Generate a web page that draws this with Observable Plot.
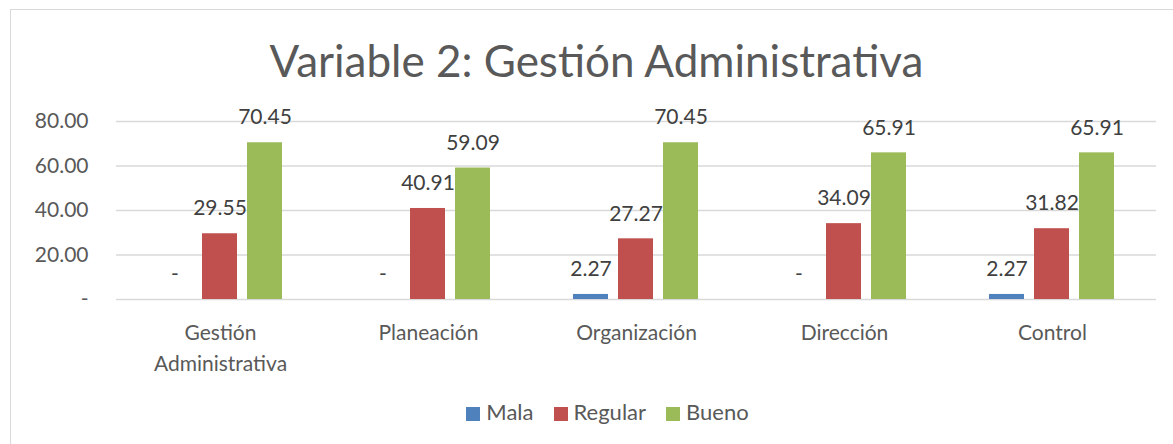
<!DOCTYPE html>
<html>
<head>
<meta charset="utf-8">
<script src="https://cdn.jsdelivr.net/npm/d3@7"></script>
<script src="https://cdn.jsdelivr.net/npm/@observablehq/plot@0.6"></script>
<style>
  html, body { margin: 0; padding: 0; background: #fff; overflow: hidden; width: 1173px; height: 444px; }
  body { position: relative; font-family: Lato, "Open Sans", sans-serif; }
  #frame { position: absolute; left: 10px; top: 9px; width: 1300px; height: 600px; border: 1px solid #d9d9d9; box-sizing: border-box; }
  #title { position: absolute; left: 0; width: 1193px; top: 33px; text-align: center; font-size: 44px; color: #595959; line-height: 54px; white-space: nowrap; }
  #chart { position: absolute; left: 0; top: 95px; }
  #legend { position: absolute; left: 11px; width: 1193px; top: 399px; text-align: center; font-size: 22px; color: #595959; line-height: 26px; white-space: nowrap; }
  #legend span.item { display: inline-block; margin: 0 10px; }
  #legend span.sw { display: inline-block; width: 14px; height: 14px; margin-right: 6px; vertical-align: -1px; }
</style>
</head>
<body>
<div id="frame"></div>
<div id="title">Variable 2: Gestión Administrativa</div>
<div id="chart"></div>
<div id="legend"></div>
<script>
const categories = ["Gestión Administrativa", "Planeación", "Organización", "Dirección", "Control"];
const categoryLabels = ["Gestión\nAdministrativa", "Planeación", "Organización", "Dirección", "Control"];
const seriesNames = ["Mala", "Regular", "Bueno"];
const seriesColors = ["#4f81bd", "#c0504d", "#9bbb59"];
const mala = [0, 0, 2.27, 0, 2.27];
const regular = [29.55, 40.91, 27.27, 34.09, 31.82];
const bueno = [70.45, 59.09, 70.45, 65.91, 65.91];
const yTicks = [0, 20, 40, 60, 80];

const seriesValues = [mala, regular, bueno];
const data = [];
categories.forEach((c, i) => {
  seriesNames.forEach((s, j) => data.push({category: c, series: s, value: seriesValues[j][i]}));
});
const fmt = v => v === 0 ? "-" : v.toFixed(2);

const chart = Plot.plot({
  width: 1173,
  height: 285,
  marginLeft: 115,
  marginRight: 17,
  marginTop: 26,
  marginBottom: 81,
  style: {fontFamily: "Lato, 'Open Sans', sans-serif", fontSize: "21px", color: "#595959", background: "transparent", overflow: "visible"},
  fx: {domain: categories, padding: 0, axis: null, label: null},
  x: {domain: seriesNames, axis: null, paddingInner: 0.217, paddingOuter: 0.87},
  y: {domain: [0, 80], ticks: yTicks, tickFormat: fmt, tickSize: 0, tickPadding: 28, label: null, grid: false},
  color: {domain: seriesNames, range: seriesColors},
  marks: [
    Plot.ruleY(yTicks, {stroke: "#d9d9d9", strokeWidth: 1.5}),
    Plot.barY(data, {fx: "category", x: "series", y: "value", fill: "series"}),
    Plot.text(data, {fx: "category", x: "series", y: "value", text: d => fmt(d.value), dy: -25, fill: "#404040", fontSize: 21}),
    Plot.text(categories, {fx: d => d, text: (d, i) => categoryLabels[i], frameAnchor: "bottom", lineAnchor: "top", dy: 19, lineHeight: 1.45, fill: "#595959", fontSize: 21})
  ]
});
document.getElementById("chart").appendChild(chart);

const legend = document.getElementById("legend");
seriesNames.forEach((s, i) => {
  const item = document.createElement("span");
  item.className = "item";
  const sw = document.createElement("span");
  sw.className = "sw";
  sw.style.background = seriesColors[i];
  item.appendChild(sw);
  item.appendChild(document.createTextNode(s));
  legend.appendChild(item);
});
</script>
</body>
</html>
